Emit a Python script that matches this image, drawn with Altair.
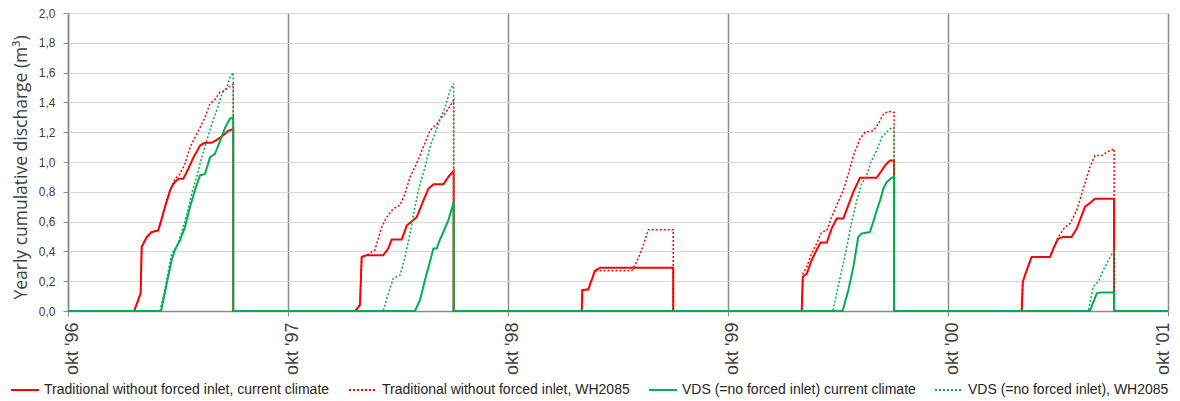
import json
import altair as alt
import pandas as pd

series_names = [
    "Traditional without forced inlet, current climate",
    "Traditional without forced inlet, WH2085",
    "VDS (=no forced inlet) current climate",
    "VDS (=no forced inlet), WH2085",
]
series_colors = ["#FF0000", "#FF0000", "#00B050", "#00B050"]
series_dash = [[1, 0], [2, 2], [1, 0], [2, 2]]
series_width = [2, 1.5, 2, 1.5]

x_ticks = [0, 1, 2, 3, 4, 5]
x_labels = ["okt '96", "okt '97", "okt '98", "okt '99", "okt '00", "okt '01"]
y_ticks = [0.0, 0.2, 0.4, 0.6, 0.8, 1.0, 1.2, 1.4, 1.6, 1.8, 2.0]

# fraction of the hydrological year (from okt) and cumulative discharge, one list per season
trad_cur_t = [
    [0.301, 0.330, 0.335, 0.358, 0.380, 0.410, 0.426, 0.441, 0.464, 0.479, 0.501, 0.524, 0.547, 0.570, 0.600, 0.623, 0.653, 0.683, 0.706, 0.729, 0.751],
    [0.305, 0.327, 0.335, 0.358, 0.433, 0.456, 0.471, 0.517, 0.540, 0.562, 0.585, 0.615, 0.638, 0.661, 0.706, 0.729, 0.753],
    [0.335, 0.338, 0.365, 0.380, 0.395, 0.418, 0.751],
    [0.335, 0.340, 0.358, 0.380, 0.403, 0.421, 0.449, 0.471, 0.494, 0.524, 0.547, 0.570, 0.600, 0.676, 0.699, 0.714, 0.736, 0.755],
    [0.335, 0.340, 0.358, 0.380, 0.464, 0.479, 0.501, 0.524, 0.562, 0.585, 0.623, 0.645, 0.668, 0.755],
]
trad_cur_y = [
    [0.0, 0.118, 0.43, 0.497, 0.53, 0.54, 0.62, 0.70, 0.81, 0.854, 0.887, 0.887, 0.955, 1.03, 1.11, 1.13, 1.13, 1.155, 1.18, 1.21, 1.22],
    [0.0, 0.04, 0.363, 0.375, 0.375, 0.42, 0.48, 0.48, 0.575, 0.60, 0.63, 0.74, 0.82, 0.85, 0.85, 0.90, 0.94],
    [0.0, 0.14, 0.145, 0.207, 0.27, 0.29, 0.29],
    [0.0, 0.23, 0.25, 0.34, 0.41, 0.46, 0.46, 0.553, 0.62, 0.62, 0.71, 0.80, 0.894, 0.894, 0.943, 0.977, 1.01, 1.01],
    [0.0, 0.196, 0.274, 0.363, 0.363, 0.42, 0.486, 0.497, 0.497, 0.553, 0.70, 0.724, 0.754, 0.754],
]

trad_wh_t = [
    [0.301, 0.330, 0.335, 0.358, 0.380, 0.410, 0.426, 0.441, 0.464, 0.486, 0.509, 0.532, 0.555, 0.577, 0.600, 0.623, 0.645, 0.668, 0.691, 0.714, 0.736, 0.751],
    [0.305, 0.327, 0.335, 0.358, 0.395, 0.426, 0.449, 0.479, 0.509, 0.532, 0.555, 0.585, 0.615, 0.645, 0.676, 0.699, 0.729, 0.753],
    [0.335, 0.338, 0.365, 0.380, 0.395, 0.562, 0.585, 0.608, 0.638, 0.751],
    [0.335, 0.340, 0.358, 0.380, 0.403, 0.426, 0.449, 0.471, 0.494, 0.524, 0.547, 0.570, 0.600, 0.623, 0.661, 0.683, 0.706, 0.729, 0.755],
    [0.335, 0.340, 0.358, 0.380, 0.464, 0.501, 0.532, 0.555, 0.585, 0.615, 0.645, 0.668, 0.699, 0.721, 0.755],
]
trad_wh_y = [
    [0.0, 0.118, 0.43, 0.497, 0.53, 0.54, 0.62, 0.70, 0.81, 0.887, 0.92, 0.99, 1.10, 1.166, 1.23, 1.30, 1.39, 1.42, 1.47, 1.48, 1.51, 1.523],
    [0.0, 0.04, 0.363, 0.375, 0.41, 0.564, 0.63, 0.687, 0.71, 0.787, 0.90, 0.99, 1.10, 1.21, 1.255, 1.30, 1.356, 1.416],
    [0.0, 0.14, 0.145, 0.207, 0.27, 0.27, 0.33, 0.41, 0.546, 0.546],
    [0.0, 0.25, 0.296, 0.386, 0.453, 0.53, 0.54, 0.63, 0.71, 0.81, 0.92, 1.043, 1.155, 1.20, 1.21, 1.255, 1.32, 1.34, 1.333],
    [0.0, 0.196, 0.274, 0.363, 0.363, 0.497, 0.564, 0.587, 0.675, 0.82, 0.965, 1.043, 1.043, 1.066, 1.088],
]

vds_cur_t = [
    [0.423, 0.449, 0.471, 0.486, 0.509, 0.532, 0.555, 0.577, 0.600, 0.623, 0.645, 0.668, 0.691, 0.714, 0.736, 0.751],
    [0.577, 0.600, 0.623, 0.645, 0.661, 0.676, 0.691, 0.706, 0.729, 0.753],
    [],
    [0.521, 0.547, 0.570, 0.592, 0.608, 0.645, 0.660, 0.676, 0.691, 0.706, 0.721, 0.744, 0.755],
    [0.645, 0.676, 0.691, 0.755],
]
vds_cur_y = [
    [0.0, 0.185, 0.34, 0.41, 0.475, 0.564, 0.70, 0.81, 0.91, 0.92, 1.03, 1.055, 1.14, 1.23, 1.29, 1.30],
    [0.0, 0.073, 0.21, 0.33, 0.42, 0.42, 0.48, 0.53, 0.61, 0.73],
    [],
    [0.0, 0.14, 0.296, 0.497, 0.52, 0.53, 0.597, 0.675, 0.74, 0.82, 0.865, 0.894, 0.90],
    [0.0, 0.118, 0.125, 0.125],
]

vds_wh_t = [
    [0.418, 0.441, 0.471, 0.494, 0.517, 0.540, 0.562, 0.585, 0.608, 0.630, 0.653, 0.676, 0.699, 0.721, 0.736, 0.751],
    [0.433, 0.456, 0.479, 0.509, 0.532, 0.555, 0.577, 0.600, 0.623, 0.645, 0.668, 0.691, 0.714, 0.736, 0.753],
    [],
    [0.476, 0.494, 0.517, 0.540, 0.562, 0.585, 0.608, 0.630, 0.653, 0.676, 0.699, 0.721, 0.736, 0.755],
    [0.638, 0.660, 0.683, 0.706, 0.729, 0.755],
]
vds_wh_y = [
    [0.0, 0.15, 0.386, 0.43, 0.53, 0.65, 0.787, 0.90, 1.03, 1.14, 1.255, 1.345, 1.456, 1.50, 1.567, 1.60],
    [0.0, 0.118, 0.22, 0.24, 0.363, 0.52, 0.70, 0.854, 0.965, 1.10, 1.19, 1.29, 1.366, 1.478, 1.527],
    [],
    [0.0, 0.118, 0.274, 0.43, 0.597, 0.74, 0.854, 0.91, 1.01, 1.077, 1.166, 1.20, 1.222, 1.233],
    [0.0, 0.163, 0.196, 0.274, 0.34, 0.41],
]

series_t = [trad_cur_t, trad_wh_t, vds_cur_t, vds_wh_t]
series_y = [trad_cur_y, trad_wh_y, vds_cur_y, vds_wh_y]

rows = []
for name, ts, ys in zip(series_names, series_t, series_y):
    i = 0
    rows.append({"series": name, "x": 0.0, "y": 0.0, "i": i}); i += 1
    for k, (tl, yl) in enumerate(zip(ts, ys)):
        for t, v in zip(tl, yl):
            rows.append({"series": name, "x": k + t, "y": v, "i": i}); i += 1
        if tl:
            rows.append({"series": name, "x": k + tl[-1], "y": 0.0, "i": i}); i += 1
    rows.append({"series": name, "x": float(x_ticks[-1]), "y": 0.0, "i": i})
df = pd.DataFrame(rows)

label_expr_x = json.dumps(x_labels) + "[round(datum.value)]"

legend = alt.Legend(
    title=None, orient="none", legendX=-58, legendY=362, direction="horizontal",
    columns=4, symbolType="stroke", symbolSize=784, symbolStrokeWidth=2,
    columnPadding=15, labelOffset=4, labelFont="Liberation Sans", labelFontSize=14,
    labelColor="#262626", labelLimit=600,
)

x_enc = alt.X("x:Q", scale=alt.Scale(domain=[0, 5], nice=False, zero=False),
              axis=alt.Axis(values=x_ticks, labelExpr=label_expr_x, labelAngle=270,
                            labelBaseline={"condition": {"test": "datum.value >= 5", "value": "bottom"},
                                           "value": "middle"},
                            grid=True, gridColor="#8C8C8C", gridWidth=1.5,
                            domainColor="#8C8C8C", domainWidth=1.5, tickColor="#8C8C8C",
                            tickSize=5, labelFont="Liberation Sans", labelFontSize=18,
                            labelColor="#404040", labelPadding=6, labelOffset=4, title=None))
y_enc = alt.Y("y:Q", scale=alt.Scale(domain=[0, 2], nice=False),
              axis=alt.Axis(values=y_ticks,
                            labelExpr="replace(format(datum.value, '.1f'), '.', ',')",
                            grid=True, gridColor="#D9D9D9", gridWidth=1,
                            domainColor="#8C8C8C", domainWidth=1.5, tickColor="#8C8C8C",
                            tickSize=5, labelFont="Liberation Sans", labelFontSize=12,
                            labelColor="#404040", labelPadding=8,
                            title="Yearly cumulative discharge (m³)", titleFont="Open Sans",
                            titleFontSize=17.5, titleFontWeight="normal", titleColor="#404040",
                            titlePadding=8, titleY=154))
color_enc = alt.Color("series:N", scale=alt.Scale(domain=series_names, range=series_colors), legend=legend)
dash_enc = alt.StrokeDash("series:N", scale=alt.Scale(domain=series_names, range=series_dash), legend=legend)

layers = []
for name, w in zip(series_names, series_width):
    layers.append(
        alt.Chart(df).transform_filter(alt.datum.series == name)
        .mark_line(strokeWidth=w, interpolate="linear")
        .encode(x=x_enc, y=y_enc, color=color_enc, strokeDash=dash_enc, order="i:Q")
    )

chart = alt.layer(*layers).properties(
    width=1100, height=298,
    autosize=alt.AutoSizeParams(type="none"),
    padding={"left": 60, "top": 5, "right": 4, "bottom": 87},
).configure_view(stroke=None)

chart.save("out.html", embed_options={"renderer": "svg", "actions": False})
